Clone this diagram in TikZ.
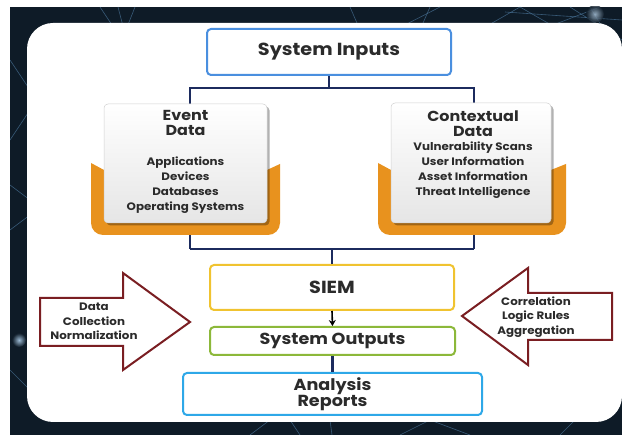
\documentclass[tikz,border=0pt]{standalone}
\usepackage{fontspec}
\setmainfont{Poppins}
\newfontfamily\wfont{Poppins}[FakeStretch=1.1]
\usetikzlibrary{arrows.meta,shadows,calc}
\definecolor{bgdark}{HTML}{0E1B27}
\definecolor{netline}{HTML}{5A8DB8}
\definecolor{navy}{HTML}{1C2B5E}
\definecolor{sibl}{HTML}{4A8FDF}
\definecolor{siemy}{HTML}{F0C330}
\definecolor{outg}{HTML}{8CB83A}
\definecolor{anab}{HTML}{2EA8E8}
\definecolor{tray}{HTML}{E8921E}
\definecolor{arrred}{HTML}{7A1E22}
\definecolor{txt}{HTML}{2B2B2B}
\begin{document}
\begin{tikzpicture}[x=1pt,y=-1pt,
  flowbox/.style={draw, rounded corners=4pt, line width=2pt, fill=white, text=txt,
    font=\wfont\bfseries\fontsize{16}{18}\selectfont, align=center, inner sep=0pt},
  conn/.style={draw=navy, line width=2.4pt},
  card/.style={rounded corners=4pt, top color=white, bottom color=black!10,
    draw=black!18, line width=0.5pt, inner sep=0pt,
    drop shadow={shadow xshift=2.5pt, shadow yshift=-2.5pt, opacity=0.3, fill=black}},
  cardtitle/.style={text=txt, font=\wfont\bfseries\fontsize{14.5}{15}\selectfont, align=center},
  carditems/.style={text=txt, font=\wfont\bfseries\fontsize{10.8}{15}\selectfont, align=center},
  arrtext/.style={text=txt, font=\wfont\bfseries\fontsize{10.8}{14.5}\selectfont, align=center},
  blockarrow/.style={draw=arrred, line width=2pt, fill=white, line join=miter},
  net/.style={draw=netline, line width=0.6pt, opacity=0.55}
]
\useasboundingbox (0,0) rectangle (622,435);
\fill[white] (0,0) rectangle (622,435);
\fill[bgdark] (10,7) rectangle (622,435);
% network texture
\begin{scope}
\clip (10,7) rectangle (622,435);
\draw[net] (100,7) -- (122,40) -- (135,7);
\draw[net] (118,7) -- (124,30);
\draw[net] (350,7) -- (360,30);
\draw[net] (395,30) -- (440,7);
\draw[net] (420,30) -- (430,7);
\draw[net] (480,30) -- (520,7) -- (560,30);
\draw[net] (540,30) -- (600,7);
\draw[net] (570,7) -- (622,40);
\draw[net] (590,7) -- (610,40);
\draw[net] (505,12) -- (622,20);
\draw[net] (10,60) -- (30,90);
\draw[net] (10,140) -- (30,110);
\draw[net] (10,185) -- (30,200);
\draw[net] (10,230) -- (30,215);
\draw[net] (10,370) -- (30,390);
\draw[net] (250,435) -- (270,420);
\draw[net] (290,420) -- (300,435);
\draw[net] (330,420) -- (332,435);
\draw[net] (400,435) -- (430,420) -- (470,435);
\draw[net] (560,435) -- (575,420);
\shade[inner color=netline!60!white, outer color=bgdark] (19,340) circle (7);
\shade[inner color=netline!50!white, outer color=bgdark, opacity=0.8] (595,14) circle (9);
\end{scope}
% white panel
\fill[white, rounded corners=26pt] (27,23) rectangle (622,422);

% coordinates for the brackets
\coordinate (tl) at (190,88);
\coordinate (tr) at (474,88);
\coordinate (bl) at (190,249);
\coordinate (br) at (474,249);

% main column
\node[flowbox, draw=sibl, minimum width=244pt, minimum height=46pt,
  font=\wfont\bfseries\fontsize{17.5}{18}\selectfont] (si) at (329,52) {System Inputs};
\node[flowbox, draw=siemy, minimum width=244pt, minimum height=45pt,
  font=\wfont\bfseries\fontsize{17.5}{18}\selectfont] (siem) at (332,287.5) {SIEM};
\node[flowbox, draw=outg, minimum width=245pt, minimum height=28pt] (out) at (332.5,341) {System Outputs};
\node[flowbox, draw=anab, minimum width=299pt, minimum height=42pt,
  font=\wfont\bfseries\fontsize{16}{16.5}\selectfont] (ana) at (332.5,394) {Analysis\\Reports};

% brackets (drawn first, cards cover the middle)
\draw[conn] (si.south) -- (si.south |- tl);
\draw[conn, line join=miter] (bl) -- (tl) -- (tr) -- (br);
\draw[conn, line join=miter] (bl) -- (br);
\draw[conn] (siem.north |- bl) -- (siem.north);
\draw[black, line width=1.6pt, -{Stealth[length=6pt,width=7pt]}] (siem.south) -- (out.north);
\draw[conn] (out.south) -- (ana.north);

% orange trays
\fill[tray] (91,163) -- (104,170) -- (267,170) -- (280,164)
  [rounded corners=12pt] -- (280,235) -- (91,235) [sharp corners] -- cycle;
\fill[tray] (378,163) -- (391,170) -- (551,170) -- (566,164)
  [rounded corners=12pt] -- (566,235) -- (378,235) [sharp corners] -- cycle;

% cards
\node[card, minimum width=163pt, minimum height=119pt] (ev) at (185.5,163.5) {};
\node[card, minimum width=160pt, minimum height=120pt] (cd) at (471,163) {};
\node[cardtitle] (evt) at (ev.center |- 0,122.5) {Event\\Data};
\node[carditems] (evi) at (ev.center |- 0,185.5) {Applications\\Devices\\Databases\\Operating Systems};
\node[cardtitle] (cdt) at (473,123.5) {Contextual\\Data};
\node[carditems] (cdi) at (473,170.5) {Vulnerability Scans\\User Information\\Asset Information\\Threat Intelligence};

% block arrows
\path[blockarrow] (40,298) -- (123,298) -- (123,273) -- (190,322) -- (123,370)
  -- (123,346) -- (40,346) -- cycle;
\node[arrtext] (lt) at (94,321.5) {Data\\Collection\\Normalization};
\path[blockarrow] (612,293) -- (528,293) -- (528,268) -- (462,316) -- (528,365)
  -- (528,340) -- (612,340) -- cycle;
\node[arrtext] (rt) at (536,317) {Correlation\\Logic Rules\\Aggregation};
\end{tikzpicture}
\end{document}
